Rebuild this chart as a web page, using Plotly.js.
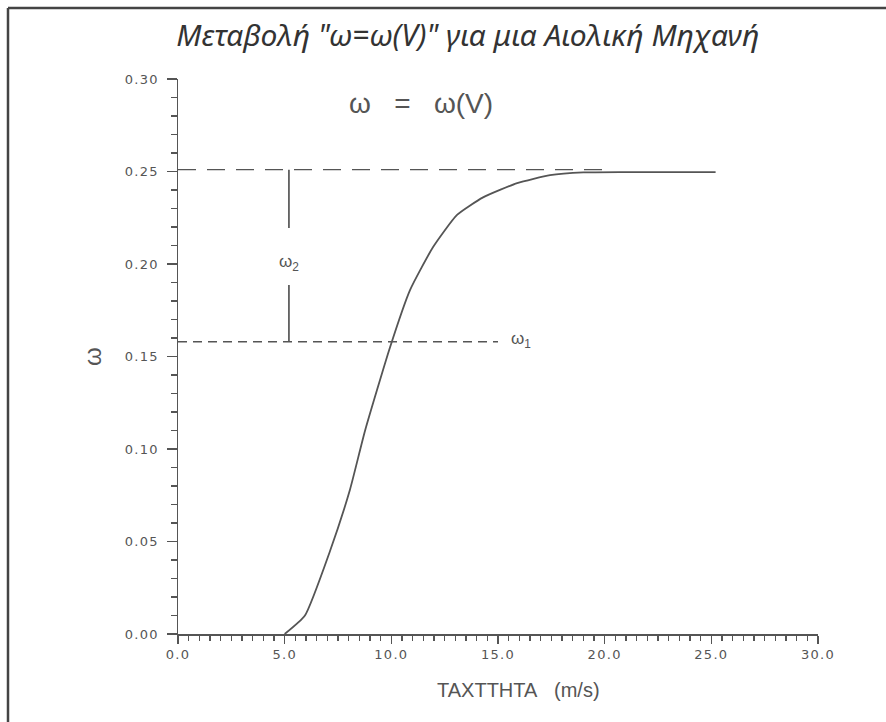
<!DOCTYPE html>
<html>
<head>
<meta charset="utf-8">
<script src="https://cdn.plot.ly/plotly-3.0.1.min.js"></script>
<style>
html,body{margin:0;padding:0;background:#fff;}
.xtick text, .ytick text {letter-spacing: 1.3px;}
</style>
</head>
<body>
<div id="chart" style="width:886px;height:722px;"></div>
<script>
// Curve omega(V)
const speed = [5.0, 5.95, 7.13, 8.06, 8.77, 9.94, 10.88, 11.95, 13.08, 14.3, 15.9, 17.44, 19.0, 21.0, 25.2];
const omega = [0.0, 0.010, 0.045, 0.078, 0.110, 0.155, 0.186, 0.209, 0.2265, 0.236, 0.2437, 0.248, 0.2495, 0.2497, 0.2497];

// Reference levels
const upperX = [0, 20];
const upperY = [0.251, 0.251];
const lowerX = [0, 15];
const lowerY = [0.158, 0.158];

// Bracket for omega2
const bracketTopX = [5.2, 5.2];
const bracketTopY = [0.251, 0.2195];
const bracketBotX = [5.2, 5.2];
const bracketBotY = [0.1886, 0.158];

const xTickVals = [0, 5, 10, 15, 20, 25, 30];
const xTickText = ["0.0", "5.0", "10.0", "15.0", "20.0", "25.0", "30.0"];
const yTickVals = [0, 0.05, 0.10, 0.15, 0.20, 0.25, 0.30];
const yTickText = ["0.00", "0.05", "0.10", "0.15", "0.20", "0.25", "0.30"];

const ink = '#555';

const traces = [
  {x: upperX, y: upperY, mode: 'lines', line: {color: ink, width: 1.4, dash: '18px,11px'}, hoverinfo: 'skip'},
  {x: lowerX, y: lowerY, mode: 'lines', line: {color: ink, width: 1.4, dash: '9px,6px'}, hoverinfo: 'skip'},
  {x: bracketTopX, y: bracketTopY, mode: 'lines', line: {color: ink, width: 1.7}, hoverinfo: 'skip'},
  {x: bracketBotX, y: bracketBotY, mode: 'lines', line: {color: ink, width: 1.7}, hoverinfo: 'skip'},
  {x: speed, y: omega, mode: 'lines', line: {color: ink, width: 1.8, shape: 'spline', smoothing: 0.5}}
];

const layout = {
  width: 886, height: 722,
  margin: {l: 178, r: 68, t: 79, b: 88},
  paper_bgcolor: '#fff', plot_bgcolor: '#fff',
  showlegend: false,
  font: {family: 'DejaVu Sans, sans-serif', color: ink},
  title: {
    text: 'Μεταβολή "ω=ω(V)" για μια Αιολική Μηχανή',
    font: {family: 'Noto Sans, sans-serif', size: 30, color: '#333', style: 'italic'},
    xref: 'container', x: 0.528, xanchor: 'center',
    yref: 'container', y: 1 - 35/722, yanchor: 'middle'
  },
  xaxis: {
    range: [0, 30], showgrid: false, zeroline: false,
    showline: true, linecolor: ink, linewidth: 1.5,
    ticks: 'outside', ticklen: 8, tickcolor: ink, tickwidth: 1.3,
    tickvals: xTickVals, ticktext: xTickText,
    tickfont: {family: 'DejaVu Sans, sans-serif', size: 13, color: '#555'},
    minor: {dtick: 0.5, ticks: 'outside', ticklen: 5, tickcolor: ink, tickwidth: 1.2}
  },
  yaxis: {
    range: [0, 0.30], showgrid: false, zeroline: false,
    showline: true, linecolor: ink, linewidth: 1.5,
    ticks: 'outside', ticklen: 10, tickcolor: ink, tickwidth: 1.3,
    tickvals: yTickVals, ticktext: yTickText,
    tickfont: {family: 'DejaVu Sans, sans-serif', size: 13, color: '#555'},
    ticklabelstandoff: 5,
    minor: {dtick: 0.01, ticks: 'outside', ticklen: 6, tickcolor: ink, tickwidth: 1.2},
    title: {text: 'ω', font: {family: 'Liberation Sans, sans-serif', size: 24, color: ink}, standoff: 16}
  },
  annotations: [
    {x: 11.4, y: 0.287, xref: 'x', yref: 'y', text: 'ω\u00a0\u00a0\u00a0=\u00a0\u00a0\u00a0ω(V)', showarrow: false,
     font: {family: 'Liberation Sans, sans-serif', size: 28, color: ink}},
    {x: 5.2, y: 0.2005, xref: 'x', yref: 'y', text: 'ω<sub>2</sub>', showarrow: false,
     font: {family: 'Liberation Sans, sans-serif', size: 17, color: ink}},
    {x: 16.1, y: 0.159, xref: 'x', yref: 'y', text: 'ω<sub>1</sub>', showarrow: false,
     font: {family: 'Liberation Sans, sans-serif', size: 17, color: ink}},
    {x: (518-178)/640, y: (634-690)/555, xref: 'paper', yref: 'paper', yanchor: 'middle',
     text: 'ΤΑΧΤΤΗΤΑ\u00a0\u00a0\u00a0(m/s)', showarrow: false,
     font: {family: 'Liberation Sans, sans-serif', size: 20, color: ink}}
  ],
  shapes: [
    {type: 'line', xref: 'paper', yref: 'paper', x0: (8-178)/640, x1: (886-178)/640, y0: (634-8)/555, y1: (634-8)/555,
     line: {color: '#444', width: 2.5}},
    {type: 'line', xref: 'paper', yref: 'paper', x0: (8-178)/640, x1: (8-178)/640, y0: (634-8)/555, y1: (634-722)/555,
     line: {color: '#444', width: 2.5}}
  ]
};

Plotly.newPlot('chart', traces, layout, {displayModeBar: false, staticPlot: true});
</script>
</body>
</html>
